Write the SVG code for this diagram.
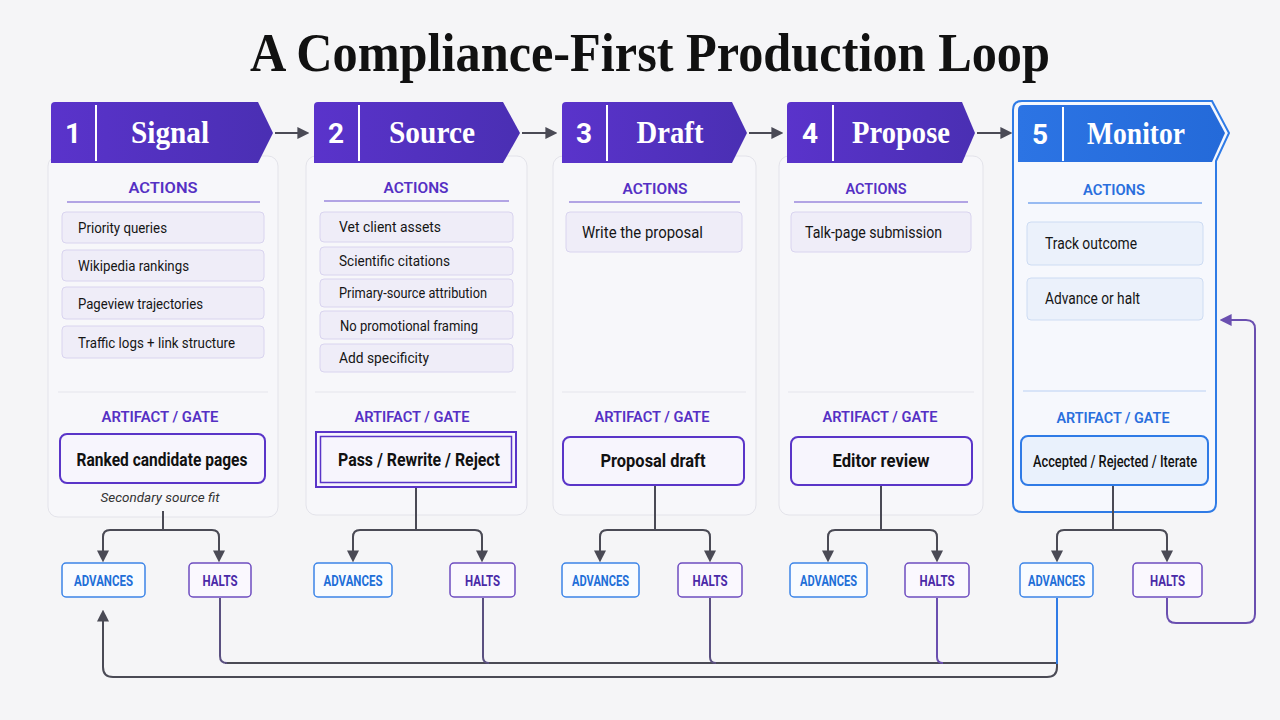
<svg xmlns="http://www.w3.org/2000/svg" width="1280" height="720" viewBox="0 0 1280 720">
<defs>
<linearGradient id="pg" x1="0" y1="0" x2="1" y2="0"><stop offset="0" stop-color="#5a33cb"/><stop offset="1" stop-color="#4a2fb3"/></linearGradient>
<linearGradient id="bg" x1="0" y1="0" x2="1" y2="0"><stop offset="0" stop-color="#2c74e4"/><stop offset="1" stop-color="#246ad9"/></linearGradient>
<marker id="ah" viewBox="0 0 10 10" refX="8" refY="5" markerWidth="6" markerHeight="6" orient="auto-start-reverse"><path d="M0,0 L10,5 L0,10 Z" fill="#4a4a55"/></marker>
<marker id="ahp" viewBox="0 0 10 10" refX="8" refY="5" markerWidth="6" markerHeight="6" orient="auto-start-reverse"><path d="M0,0 L10,5 L0,10 Z" fill="#6a4fb0"/></marker>
<style>
.title{font-family:"Liberation Serif","Times New Roman",serif;font-weight:700;font-size:54px;fill:#111}
.hnum{font-family:Roboto,"Liberation Sans",sans-serif;font-weight:700;font-size:28px;fill:#fff;text-anchor:middle}
.htxt{font-family:"Liberation Serif","Times New Roman",serif;font-weight:700;font-size:32px;fill:#fff;text-anchor:middle}
.hdiv{stroke:#fff;stroke-width:2}
.card{fill:#f7f7fa;stroke:#e3e3ea;stroke-width:1}
.sec{font-family:Roboto,"Liberation Sans",sans-serif;font-weight:600;font-size:15px;fill:#5530c4;text-anchor:middle}
.secb{fill:#2a6fdd}
.ul{stroke:#9b88dc;stroke-width:1.5}
.ulb{stroke:#79a7ee;stroke-width:1.5}
.sep{stroke:#e6e6ec;stroke-width:1.2}
.item{fill:#efedf8;stroke:#d9d4ef;stroke-width:1}
.itemb{fill:#ebf1fb;stroke:#cddcf3;stroke-width:1}
.it{font-family:Roboto,"Liberation Sans",sans-serif;font-size:15px;fill:#151515}
.it2{font-size:16px}
.gate{fill:#f7f5fd;stroke:#5a35c8;stroke-width:2}
.gateb{fill:#e9f1fc;stroke:#2f7be6;stroke-width:2}
.gt{font-family:Roboto,"Liberation Sans",sans-serif;font-weight:700;font-size:19px;fill:#111;text-anchor:middle}
.note{font-family:Roboto,"Liberation Sans",sans-serif;font-style:italic;font-size:13px;fill:#333;text-anchor:middle}
.adv{fill:#f8fbff;stroke:#3b84e8;stroke-width:1.5}
.halt{fill:#faf8fe;stroke:#6e4cc0;stroke-width:1.5}
.advt{font-family:Roboto,"Liberation Sans",sans-serif;font-weight:700;font-size:15px;fill:#1f6fd8;text-anchor:middle}
.haltt{font-family:Roboto,"Liberation Sans",sans-serif;font-weight:700;font-size:15px;fill:#4a2aa8;text-anchor:middle}
.ln{fill:none;stroke:#4a4a55;stroke-width:2}
.lnp{fill:none;stroke:#5a5080;stroke-width:2}
.lnb{fill:none;stroke:#2f7be6;stroke-width:2}
.lnv{fill:none;stroke:#6a4fb0;stroke-width:2}
</style>
</defs>
<rect width="1280" height="720" fill="#f5f5f7"/>
<text class="title" x="250" y="71" textLength="800" lengthAdjust="spacingAndGlyphs">A Compliance-First Production Loop</text>

<g id="stage1">
<rect class="card" x="48" y="156" width="230" height="361" rx="10"/>
<path d="M55,102 L258,102 L273,133 L258,163 L51,163 L51,106 Q51,102 55,102 Z" fill="url(#pg)"/>
<line class="hdiv" x1="96" y1="105" x2="96" y2="161"/>
<text class="hnum" x="73" y="143">1</text>
<text class="htxt" x="170" y="143" textLength="78" lengthAdjust="spacingAndGlyphs">Signal</text>
<text class="sec" x="163" y="193" textLength="69" lengthAdjust="spacingAndGlyphs">ACTIONS</text>
<line class="ul" x1="67" y1="202" x2="260" y2="202"/>
<rect class="item" x="62" y="212" width="202" height="31" rx="4"/>
<rect class="item" x="62" y="250" width="202" height="31" rx="4"/>
<rect class="item" x="62" y="287" width="202" height="32" rx="4"/>
<rect class="item" x="62" y="326" width="202" height="32" rx="4"/>
<text class="it" x="78" y="233" textLength="89" lengthAdjust="spacingAndGlyphs">Priority queries</text>
<text class="it" x="78" y="271" textLength="111" lengthAdjust="spacingAndGlyphs">Wikipedia rankings</text>
<text class="it" x="78" y="309" textLength="125" lengthAdjust="spacingAndGlyphs">Pageview trajectories</text>
<text class="it" x="78" y="348" textLength="157" lengthAdjust="spacingAndGlyphs">Traffic logs + link structure</text>
<line class="sep" x1="58" y1="392" x2="268" y2="392"/>
<text class="sec" x="160" y="422" textLength="117" lengthAdjust="spacingAndGlyphs">ARTIFACT / GATE</text>
<rect class="gate" x="60" y="434" width="205" height="49" rx="7"/>
<text class="gt" x="162" y="466" textLength="171" lengthAdjust="spacingAndGlyphs">Ranked candidate pages</text>
<text class="note" x="160" y="502" textLength="119" lengthAdjust="spacingAndGlyphs">Secondary source fit</text>
</g>

<g id="stage2">
<rect class="card" x="306" y="156" width="221" height="359" rx="10"/>
<path d="M318,102 L503,102 L520,133 L503,163 L314,163 L314,106 Q314,102 318,102 Z" fill="url(#pg)"/>
<line class="hdiv" x1="359" y1="105" x2="359" y2="161"/>
<text class="hnum" x="336" y="143">2</text>
<text class="htxt" x="432" y="143" textLength="86" lengthAdjust="spacingAndGlyphs">Source</text>
<text class="sec" x="416" y="193" textLength="65" lengthAdjust="spacingAndGlyphs">ACTIONS</text>
<line class="ul" x1="324" y1="201" x2="509" y2="201"/>
<rect class="item" x="320" y="212" width="193" height="30" rx="4"/>
<rect class="item" x="320" y="247" width="193" height="28" rx="4"/>
<rect class="item" x="320" y="279" width="193" height="28" rx="4"/>
<rect class="item" x="320" y="311" width="193" height="28" rx="4"/>
<rect class="item" x="320" y="344" width="193" height="28" rx="4"/>
<text class="it" x="339" y="232" textLength="102" lengthAdjust="spacingAndGlyphs">Vet client assets</text>
<text class="it" x="339" y="266" textLength="111" lengthAdjust="spacingAndGlyphs">Scientific citations</text>
<text class="it" x="339" y="298" textLength="148" lengthAdjust="spacingAndGlyphs">Primary-source attribution</text>
<text class="it" x="340" y="331" textLength="138" lengthAdjust="spacingAndGlyphs">No promotional framing</text>
<text class="it" x="339" y="363" textLength="90" lengthAdjust="spacingAndGlyphs">Add specificity</text>
<line class="sep" x1="315" y1="392" x2="516" y2="392"/>
<text class="sec" x="412" y="422" textLength="115" lengthAdjust="spacingAndGlyphs">ARTIFACT / GATE</text>
<rect x="316" y="432" width="200" height="55" fill="#f7f5fd" stroke="#5a35c8" stroke-width="2"/>
<rect x="320.5" y="436.5" width="191" height="46" fill="none" stroke="#5a35c8" stroke-width="1.5"/>
<text class="gt" x="419" y="466" textLength="162" lengthAdjust="spacingAndGlyphs">Pass / Rewrite / Reject</text>
</g>

<g id="stage3">
<rect class="card" x="553" y="156" width="203" height="359" rx="10"/>
<path d="M566,102 L732,102 L747,133 L732,163 L562,163 L562,106 Q562,102 566,102 Z" fill="url(#pg)"/>
<line class="hdiv" x1="607" y1="105" x2="607" y2="161"/>
<text class="hnum" x="584" y="143">3</text>
<text class="htxt" x="670" y="143" textLength="67" lengthAdjust="spacingAndGlyphs">Draft</text>
<text class="sec" x="655" y="194" textLength="65" lengthAdjust="spacingAndGlyphs">ACTIONS</text>
<line class="ul" x1="569" y1="202" x2="740" y2="202"/>
<rect class="item" x="566" y="212" width="176" height="40" rx="4"/>
<text class="it it2" x="582" y="238" textLength="121" lengthAdjust="spacingAndGlyphs">Write the proposal</text>
<line class="sep" x1="562" y1="392" x2="746" y2="392"/>
<text class="sec" x="652" y="422" textLength="115" lengthAdjust="spacingAndGlyphs">ARTIFACT / GATE</text>
<rect class="gate" x="563" y="437" width="181" height="48" rx="7"/>
<text class="gt" x="653" y="467" textLength="105" lengthAdjust="spacingAndGlyphs">Proposal draft</text>
</g>

<g id="stage4">
<rect class="card" x="779" y="156" width="204" height="359" rx="10"/>
<path d="M791,102 L962,102 L975,133 L962,163 L787,163 L787,106 Q787,102 791,102 Z" fill="url(#pg)"/>
<line class="hdiv" x1="833" y1="105" x2="833" y2="161"/>
<text class="hnum" x="810" y="143">4</text>
<text class="htxt" x="901" y="143" textLength="98" lengthAdjust="spacingAndGlyphs">Propose</text>
<text class="sec" x="876" y="194" textLength="61" lengthAdjust="spacingAndGlyphs">ACTIONS</text>
<line class="ul" x1="794" y1="202" x2="968" y2="202"/>
<rect class="item" x="791" y="212" width="180" height="40" rx="4"/>
<text class="it it2" x="805" y="238" textLength="137" lengthAdjust="spacingAndGlyphs">Talk-page submission</text>
<line class="sep" x1="788" y1="392" x2="974" y2="392"/>
<text class="sec" x="880" y="422" textLength="115" lengthAdjust="spacingAndGlyphs">ARTIFACT / GATE</text>
<rect class="gate" x="791" y="437" width="181" height="48" rx="7"/>
<text class="gt" x="881" y="467" textLength="97" lengthAdjust="spacingAndGlyphs">Editor review</text>
</g>

<g id="stage5">
<path d="M1022,101 L1212,101 L1229,133 L1216,161 L1216,503 Q1216,512 1207,512 L1022,512 Q1013,512 1013,503 L1013,110 Q1013,101 1022,101 Z" fill="#f6f8fd" stroke="#2f7be6" stroke-width="2"/>
<path d="M1023,105 L1210,105 L1225,133 L1212,162 L1018,162 L1018,110 Q1018,105 1023,105 Z" fill="url(#bg)"/>
<line class="hdiv" x1="1063" y1="107" x2="1063" y2="161"/>
<text class="hnum" x="1040" y="144">5</text>
<text class="htxt" x="1136" y="144" textLength="98" lengthAdjust="spacingAndGlyphs">Monitor</text>
<text class="sec secb" x="1114" y="195" textLength="62" lengthAdjust="spacingAndGlyphs">ACTIONS</text>
<line class="ulb" x1="1028" y1="203" x2="1202" y2="203"/>
<rect class="itemb" x="1027" y="222" width="176" height="43" rx="4"/>
<rect class="itemb" x="1027" y="278" width="176" height="42" rx="4"/>
<text class="it it2" x="1045" y="249" textLength="92" lengthAdjust="spacingAndGlyphs">Track outcome</text>
<text class="it it2" x="1045" y="304" textLength="95" lengthAdjust="spacingAndGlyphs">Advance or halt</text>
<line x1="1023" y1="391" x2="1206" y2="391" stroke="#b9d0f3" stroke-width="1.2"/>
<text class="sec secb" x="1113" y="423" textLength="113" lengthAdjust="spacingAndGlyphs">ARTIFACT / GATE</text>
<rect class="gateb" x="1021" y="436" width="187" height="49" rx="7"/>
<text class="gt" x="1115" y="467" style="font-size:16px;font-weight:500" textLength="164" lengthAdjust="spacingAndGlyphs">Accepted / Rejected / Iterate</text>
</g>

<g id="outcomes">
<rect class="adv" x="62" y="563" width="83" height="34" rx="4"/><text class="advt" x="103.5" y="586" textLength="59" lengthAdjust="spacingAndGlyphs">ADVANCES</text>
<rect class="halt" x="189" y="563" width="62" height="34" rx="4"/><text class="haltt" x="220" y="586" textLength="35" lengthAdjust="spacingAndGlyphs">HALTS</text>
<rect class="adv" x="314" y="563" width="78" height="34" rx="4"/><text class="advt" x="353" y="586" textLength="59" lengthAdjust="spacingAndGlyphs">ADVANCES</text>
<rect class="halt" x="450" y="563" width="65" height="34" rx="4"/><text class="haltt" x="482.5" y="586" textLength="35" lengthAdjust="spacingAndGlyphs">HALTS</text>
<rect class="adv" x="562" y="563" width="77" height="34" rx="4"/><text class="advt" x="600.5" y="586" textLength="57" lengthAdjust="spacingAndGlyphs">ADVANCES</text>
<rect class="halt" x="678" y="563" width="64" height="34" rx="4"/><text class="haltt" x="710" y="586" textLength="35" lengthAdjust="spacingAndGlyphs">HALTS</text>
<rect class="adv" x="790" y="563" width="77" height="34" rx="4"/><text class="advt" x="828.5" y="586" textLength="57" lengthAdjust="spacingAndGlyphs">ADVANCES</text>
<rect class="halt" x="905" y="563" width="64" height="34" rx="4"/><text class="haltt" x="937" y="586" textLength="35" lengthAdjust="spacingAndGlyphs">HALTS</text>
<rect class="adv" x="1020" y="563" width="73" height="34" rx="4"/><text class="advt" x="1056.5" y="586" textLength="57" lengthAdjust="spacingAndGlyphs">ADVANCES</text>
<rect class="halt" x="1133" y="563" width="69" height="34" rx="4"/><text class="haltt" x="1167.5" y="586" textLength="35" lengthAdjust="spacingAndGlyphs">HALTS</text>
</g>

<g id="connectors">
<line class="ln" x1="275" y1="133" x2="307" y2="133" marker-end="url(#ah)"/>
<line class="ln" x1="522" y1="133" x2="555" y2="133" marker-end="url(#ah)"/>
<line class="ln" x1="749" y1="133" x2="781" y2="133" marker-end="url(#ah)"/>
<line class="ln" x1="977" y1="133" x2="1010" y2="133" marker-end="url(#ah)"/>

<path class="ln" d="M163,511 L163,530"/>
<path class="ln" d="M103,560 L103,537 Q103,530 110,530 L212,530 Q219,530 219,537 L219,560" marker-start="url(#ah)" marker-end="url(#ah)"/>
<path class="ln" d="M416,488 L416,530"/>
<path class="ln" d="M353,560 L353,537 Q353,530 360,530 L475,530 Q482,530 482,537 L482,560" marker-start="url(#ah)" marker-end="url(#ah)"/>
<path class="ln" d="M655,486 L655,530"/>
<path class="ln" d="M600,560 L600,537 Q600,530 607,530 L703,530 Q710,530 710,537 L710,560" marker-start="url(#ah)" marker-end="url(#ah)"/>
<path class="ln" d="M881,486 L881,530"/>
<path class="ln" d="M828,560 L828,537 Q828,530 835,530 L930,530 Q937,530 937,537 L937,560" marker-start="url(#ah)" marker-end="url(#ah)"/>
<path class="ln" d="M1113,486 L1113,530"/>
<path class="ln" d="M1057,560 L1057,537 Q1057,530 1064,530 L1160,530 Q1167,530 1167,537 L1167,560" marker-start="url(#ah)" marker-end="url(#ah)"/>

<path class="ln" d="M225,663 L1057,663"/>
<path class="lnp" d="M220,598 L220,656 Q220,663 227,663"/>
<path class="lnp" d="M483,598 L483,657 Q483,663 489,663"/>
<path class="lnp" d="M710,598 L710,657 Q710,663 716,663"/>
<path class="lnv" d="M937,598 L937,657 Q937,663 943,663"/>
<path class="lnb" d="M1057,598 L1057,666"/>
<path class="ln" d="M1057,664 L1057,667 Q1057,677 1047,677 L113,677 Q103,677 103,667 L103,612" marker-end="url(#ah)"/>
<path class="lnv" d="M1167,598 L1167,614 Q1167,623 1176,623 L1246,623 Q1255,623 1255,614 L1255,329 Q1255,320 1246,320 L1222,320" marker-end="url(#ahp)"/>
</g>
</svg>
